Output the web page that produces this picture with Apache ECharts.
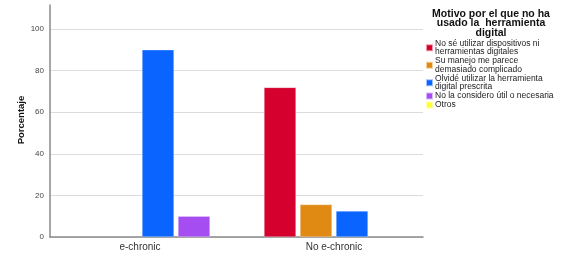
<!DOCTYPE html>
<html>
<head>
<meta charset="utf-8">
<script src="https://cdn.jsdelivr.net/npm/echarts@6/dist/echarts.min.js"></script>
<style>
html,body{margin:0;padding:0;background:#fff;}
#c{width:568px;height:258px;}
</style>
</head>
<body>
<div id="c"></div>
<script>
var categories = ['e-chronic', 'No e-chronic'];
var seriesNames = [
  'No sé utilizar dispositivos ni\nherramientas digitales',
  'Su manejo me parece\ndemasiado complicado',
  'Olvidé utilizar la herramienta\ndigital prescrita',
  'No la considero útil o necesaria',
  'Otros'
];
var noSeUtilizar = [null, 71.9];
var manejoComplicado = [null, 15.6];
var olvideUtilizar = [90, 12.5];
var noUtil = [10, null];
var otros = [null, null];
var yTicks = [0, 20, 40, 60, 80, 100];
var yAxisTitle = 'Porcentaje';
var colors = ['#D5002E', '#E08A13', '#0A64FF', '#A64DF2', '#FFFF33'];
var legendTitle = 'Motivo por el que no ha\nusado la  herramienta\ndigital';

var chart = echarts.init(document.getElementById('c'), null, {renderer: 'canvas'});
var font = 'Liberation Sans, Arial, sans-serif';
var values = [noSeUtilizar, manejoComplicado, olvideUtilizar, noUtil, otros];
var series = values.map(function (d, i) {
  return {
    name: seriesNames[i],
    type: 'bar',
    data: d,
    xAxisIndex: i === 4 ? 2 : 1,
    yAxisIndex: 1,
    barWidth: 32,
    barGap: '12.5%',
    itemStyle: {color: colors[i], borderColor: 'rgba(255,255,255,0.6)', borderWidth: 0.5}
  };
});
chart.setOption({
  animation: false,
  color: colors,
  grid: [
    {left: 50, top: 5, width: 373, height: 232},
    {left: 43, top: 5, width: 388, height: 232}
  ],
  xAxis: [{
    gridIndex: 0,
    type: 'category',
    data: categories,
    axisLine: {lineStyle: {color: '#8a8a8a', width: 1.5}},
    axisTick: {show: false},
    axisLabel: {show: false}
  }, {
    gridIndex: 1,
    type: 'category',
    data: categories,
    axisLine: {show: false},
    axisTick: {show: false},
    axisLabel: {color: '#333', fontSize: 10, fontFamily: font, margin: 5}
  }, {
    gridIndex: 1, type: 'category', data: categories, show: false
  }],
  yAxis: [{
    gridIndex: 0,
    type: 'value',
    min: 0,
    max: 111.5,
    interval: 20,
    axisLine: {show: true, lineStyle: {color: '#8a8a8a', width: 1.5}},
    axisTick: {show: false},
    axisLabel: {
      color: '#444', fontSize: 8, fontFamily: font, margin: 6,
      formatter: function (v) { return yTicks.indexOf(v) >= 0 ? String(v) : ''; }
    },
    splitLine: {lineStyle: {color: ['#dcdcdc', '#dcdcdc', '#dcdcdc', '#dcdcdc', '#dcdcdc', '#dcdcdc', 'rgba(0,0,0,0)'], width: 1}}
  }, {
    gridIndex: 1,
    type: 'value',
    min: 0,
    max: 111.5,
    show: false
  }],
  legend: {
    orient: 'vertical',
    left: 425,
    top: 39,
    padding: 0,
    itemWidth: 7,
    itemHeight: 7,
    itemGap: 0,
    icon: 'rect',
    data: seriesNames,
    textStyle: {fontSize: 8.5, lineHeight: 8.5, color: '#222', fontFamily: font, padding: [0, 0, 0, -3]}
  },
  graphic: [{
    type: 'text',
    x: 491,
    y: 9,
    style: {
      text: legendTitle,
      textAlign: 'center',
      font: 'bold 10.5px Liberation Sans, Arial, sans-serif',
      lineHeight: 9.5,
      fill: '#111'
    }
  }, {
    type: 'text',
    x: 21,
    y: 120,
    rotation: Math.PI / 2,
    style: {
      text: yAxisTitle,
      textAlign: 'center',
      textVerticalAlign: 'middle',
      font: 'bold 9.5px Liberation Sans, Arial, sans-serif',
      fill: '#111'
    }
  }],
  series: series
});
</script>
</body>
</html>
